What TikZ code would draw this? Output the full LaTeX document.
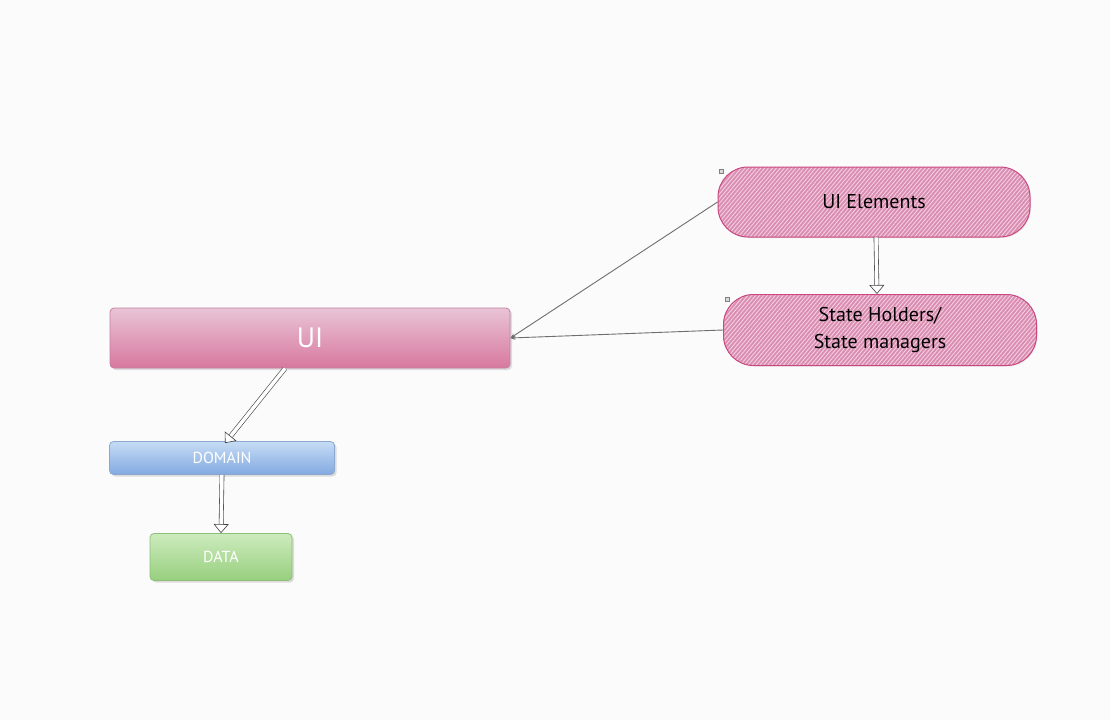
\documentclass[tikz,border=0pt]{standalone}
\usepackage{fontspec}
\setmainfont{PT Sans}
\usepackage{tikz}
\usetikzlibrary{positioning, arrows.meta, shadows, patterns.meta}
\usepackage{xcolor}
\definecolor{bgcol}{HTML}{FBFBFC}
\definecolor{uitop}{HTML}{E9C4D7}
\definecolor{uibot}{HTML}{D8789F}
\definecolor{uiedge}{HTML}{C47FA2}
\definecolor{domtop}{HTML}{C6DCF5}
\definecolor{dombot}{HTML}{82A9E0}
\definecolor{domedge}{HTML}{8CA8D0}
\definecolor{dattop}{HTML}{CDEBBE}
\definecolor{datbot}{HTML}{97CF7E}
\definecolor{datedge}{HTML}{8CC078}
\definecolor{pillfill}{HTML}{E890BA}
\definecolor{pillhatch}{HTML}{F6CFE1}
\definecolor{pilledge}{HTML}{C8487F}
\definecolor{linkgray}{HTML}{6E6E6E}
\tikzstyle{fat arrow} = [double=white, double distance=3.5pt, line width=0.6pt, draw=black!75, -{Triangle[fill=white, length=9pt, width=15pt, line width=0.6pt]}]
\tikzstyle{thin link} = [draw=linkgray, line width=0.9pt, -{Stealth[length=5pt, width=4pt]}]

\begin{document}
\begin{tikzpicture}[
    x=1pt, y=-1pt,
    layer-box/.style={draw, line width=0.8pt, rounded corners=4pt, text=white, inner sep=0pt,
      drop shadow={opacity=0.25, shadow xshift=2pt, shadow yshift=-2pt}},
    pill-box/.style={draw=pilledge, line width=1pt, rounded corners=30pt, inner sep=0pt, align=center,
      preaction={fill=pillfill}, pattern={Lines[angle=50, distance=3pt, line width=0.9pt]},
      pattern color=pillhatch, font=\fontsize{20}{27}\selectfont,
      drop shadow={opacity=0.15, shadow xshift=1pt, shadow yshift=-1pt}},
    marker/.style={draw=black!50, fill=black!15, line width=0.3pt}
  ]

  \fill[bgcol] (0,0) rectangle (1110,720);
  \useasboundingbox (0,0) rectangle (1110,720);

  % layers
  \node[layer-box, draw=uiedge, top color=uitop, bottom color=uibot,
    minimum width=400, minimum height=60, font=\fontsize{28}{32}\selectfont] (ui) at (310,338) {UI};
  \node[layer-box, draw=domedge, top color=domtop, bottom color=dombot,
    minimum width=225, minimum height=33, font=\fontsize{16}{18}\selectfont] (dom) at (222,458) {DOMAIN};
  \node[layer-box, draw=datedge, top color=dattop, bottom color=datbot,
    minimum width=142, minimum height=47, font=\fontsize{16}{18}\selectfont] (dat) at (221,557) {DATA};

  % ui parts
  \node[pill-box, minimum width=312, minimum height=70] (elem) at (874,202) {UI Elements};
  \node[pill-box, minimum width=313, minimum height=71] (state) at (880,330) {State Holders/\\State managers};

  \draw[marker] ([xshift=2, yshift=-3]elem.north west) rectangle ++(4,4);
  \draw[marker] ([xshift=2, yshift=-3]state.north west) rectangle ++(4,4);

  \draw[thin link] (elem.west) -- (ui.east);
  \draw[thin link] (state.west) -- (ui.east);

  \draw[fat arrow] ([xshift=-25]ui.south) -- ([xshift=3, yshift=-2]dom.north);
  \draw[fat arrow] (dom.south) -- (dat.north);
  \draw[fat arrow] ([xshift=2]elem.south) -- ([xshift=-3]state.north);

\end{tikzpicture}
\end{document}
